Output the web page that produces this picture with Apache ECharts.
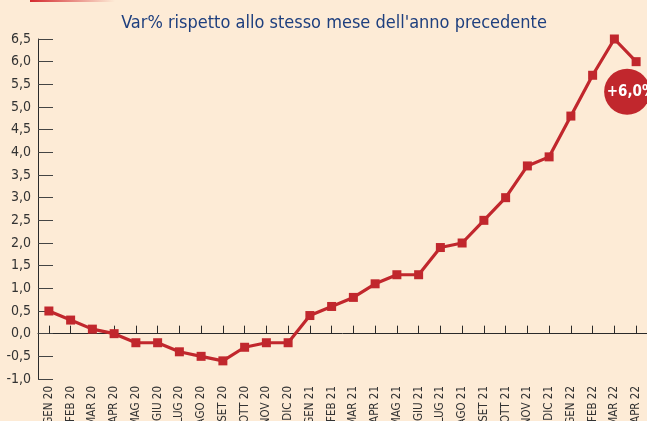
<!DOCTYPE html>
<html>
<head>
<meta charset="utf-8">
<script src="https://cdn.jsdelivr.net/npm/echarts@6/dist/echarts.min.js"></script>
<style>
  html, body { margin: 0; padding: 0; background: #fdebd6; }
  #chart { width: 647px; height: 421px; }
</style>
</head>
<body>
<div id="chart"></div>
<script>
var months = ['GEN 20', 'FEB 20', 'MAR 20', 'APR 20', 'MAG 20', 'GIU 20', 'LUG 20', 'AGO 20', 'SET 20', 'OTT 20', 'NOV 20', 'DIC 20',
    'GEN 21', 'FEB 21', 'MAR 21', 'APR 21', 'MAG 21', 'GIU 21', 'LUG 21', 'AGO 21', 'SET 21', 'OTT 21', 'NOV 21', 'DIC 21',
    'GEN 22', 'FEB 22', 'MAR 22', 'APR 22'];
var varPct = [0.5, 0.3, 0.1, 0.0, -0.2, -0.2, -0.4, -0.5, -0.6, -0.3, -0.2, -0.2,
    0.4, 0.6, 0.8, 1.1, 1.3, 1.3, 1.9, 2.0, 2.5, 3.0, 3.7, 3.9,
    4.8, 5.7, 6.5, 6.0];
var badgeText = '+6,0%';

var narrow = "'Liberation Sans Narrow', 'DejaVu Sans Condensed', sans-serif";
var red = '#c1272d';

var chart = echarts.init(document.getElementById('chart'));
var option = {
    backgroundColor: '#fdebd6',
    animation: false,
    title: {
        text: "Var% rispetto allo stesso mese dell'anno precedente",
        left: 329,
        textAlign: 'center',
        top: 9,
        textStyle: { fontFamily: narrow, fontWeight: 'normal', fontSize: 18, color: '#1e3f7e' }
    },
    graphic: [
        {
            type: 'rect',
            shape: { x: 30, y: 0, width: 85, height: 2 },
            style: {
                fill: new echarts.graphic.LinearGradient(0, 0, 1, 0, [
                    { offset: 0, color: '#d42a2f' },
                    { offset: 1, color: 'rgba(212,42,47,0)' }
                ])
            }
        }
    ],
    grid: { left: 38, right: 0, top: 39, bottom: 42, outerBoundsMode: 'none', containLabel: false },
    xAxis: [
        {
            type: 'category',
            data: months,
            axisLine: { show: true, onZero: true, lineStyle: { color: '#2a2a2a', width: 1 } },
            axisTick: { show: true, inside: true, length: 8, alignWithLabel: true, interval: 0, lineStyle: { color: '#2a2a2a', width: 1 } },
            axisLabel: { show: false }
        },
        {
            type: 'category',
            data: months,
            position: 'bottom',
            axisLine: { show: false, onZero: false },
            axisTick: { show: false },
            axisLabel: {
                interval: 0,
                rotate: 90,
                margin: 7,
                fontFamily: narrow,
                fontSize: 11.5,
                color: '#333'
            }
        }
    ],
    yAxis: {
        type: 'value',
        min: -1,
        max: 6.5,
        interval: 0.5,
        splitLine: { show: false },
        axisLine: { show: true, lineStyle: { color: '#2a2a2a', width: 1 } },
        axisTick: { show: true, inside: true, length: 15, lineStyle: { color: '#444' } },
        axisLabel: {
            margin: 7,
            fontFamily: narrow,
            fontSize: 14,
            color: '#333',
            formatter: function (v) { return v.toFixed(1).replace('.', ','); }
        }
    },
    series: [
        {
            type: 'line',
            data: varPct,
            xAxisIndex: 0,
            symbol: 'rect',
            symbolSize: 9,
            lineStyle: { color: red, width: 3.2 },
            itemStyle: { color: red },
            markPoint: {
                symbol: 'circle',
                symbolSize: 46,
                symbolOffset: [-9, 30],
                itemStyle: { color: red },
                label: {
                    show: true,
                    formatter: badgeText,
                    color: '#fff',
                    fontFamily: narrow,
                    fontWeight: 'bold',
                    fontSize: 15,
                    offset: [4, 0]
                },
                data: [{ coord: [months.length - 1, varPct[varPct.length - 1]] }]
            }
        }
    ]
};
chart.setOption(option);
</script>
</body>
</html>
